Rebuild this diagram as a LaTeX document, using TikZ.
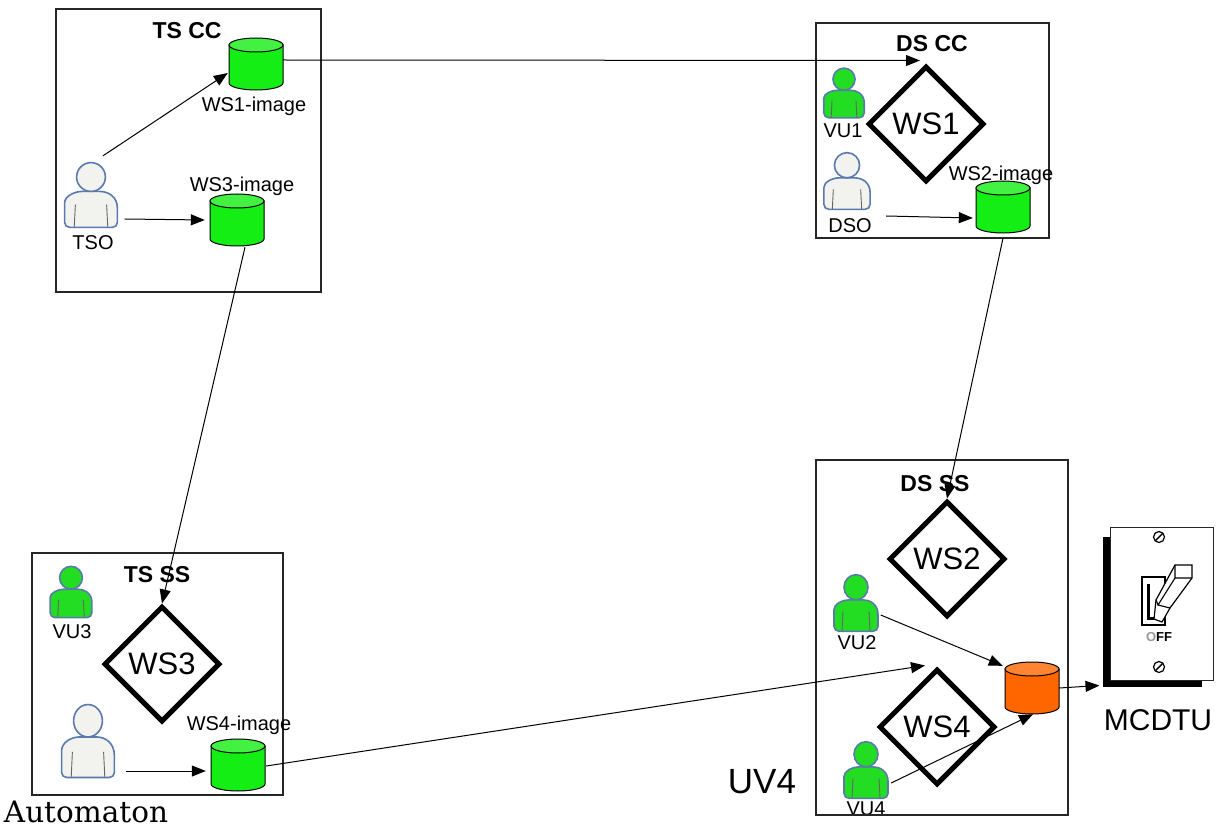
\documentclass[tikz,border=0pt]{standalone}
\usepackage{fontspec}
\setsansfont{Liberation Sans}
\newfontfamily\captionserif{DejaVu Serif}
\usetikzlibrary{shapes.geometric,arrows.meta,calc}

\definecolor{dbgreen}{HTML}{14EE14}
\definecolor{usergreen}{HTML}{22DD22}
\definecolor{userwhite}{HTML}{F2F2EE}
\definecolor{iconedge}{HTML}{5A7AAE}
\definecolor{dborange}{HTML}{FF6600}

\tikzset{
  zone/.style={draw=black!85, line width=1.2pt},
  zonetitle/.style={font=\sffamily\bfseries\fontsize{23}{26}\selectfont},
  lbl/.style={font=\sffamily\fontsize{20}{22}\selectfont, inner sep=0pt},
  biglbl/.style={font=\sffamily\fontsize{#1}{#1}\selectfont, inner sep=0pt},
  arr/.style={-{Triangle[length=14pt,width=11pt]}, line width=1pt},
  dbspot/.style={inner sep=0pt, minimum width=54pt, minimum height=52pt},
  ws/.style={diamond, draw=black, line width=5pt, minimum width=116pt,
    minimum height=116pt, inner sep=0pt, font=\sffamily\fontsize{31}{31}\selectfont},
  spot/.style={inner sep=0pt, minimum width=#1},
  % storage drum: body, front rim of the base, lighter top face
  drum/.pic={
    \filldraw[fill=#1, draw=black, line width=1pt]
      (-27,-19) -- (-27,19)
      arc[start angle=180, end angle=0, x radius=27, y radius=7]
      -- (27,-19) -- cycle;
    \filldraw[fill=#1!80!white, draw=black, line width=1pt]
      (0,-19) ellipse[x radius=27, y radius=7];
  },
  % user silhouette: shoulders, arm creases, head
  person/.pic={
    \path[fill=#1] (-22,27) [rounded corners=5pt] -- (-22,11)
      [rounded corners=0pt] .. controls (-22,1) and (-14,-3) .. (-7,-3)
      -- (7,-3) .. controls (14,-3) and (22,1) .. (22,11)
      [rounded corners=5pt] -- (22,27) -- cycle;
    \draw[iconedge, line width=1.6pt] (-22,27) [rounded corners=5pt] -- (-22,11)
      [rounded corners=0pt] .. controls (-22,1) and (-14,-3) .. (-7,-3)
      -- (7,-3) .. controls (14,-3) and (22,1) .. (22,11)
      [rounded corners=5pt] -- (22,27) -- cycle;
    \draw[black!60, line width=0.9pt] (-13,8) -- (-14,27) (13,8) -- (14,27);
    \filldraw[fill=#1, draw=iconedge, line width=1.6pt] (0,-15) circle (12);
  }
}

\begin{document}
\begin{tikzpicture}[x=1pt, y=-1pt]
\useasboundingbox[fill=white] (0,0) rectangle (1224,829);

% ---------- zones ----------
\draw[zone] (56,9) rectangle (321,292);
\draw[zone] (816,23) rectangle (1049,238);
\draw[zone] (32,553) rectangle (283,795);

\node[zonetitle] (tscc) at (187,31) {TS CC};
\node[zonetitle] (dscc) at (932,44) {DS CC};
\node[zonetitle] (tsss) at (157,575) {TS SS};
\node[zonetitle] (dsss) at (935,484) {DS SS};

% ---------- users ----------
\node[spot=55pt, minimum height=70pt] (tso) at (91,195) {};
\pic[scale=1.2] at (tso) {person=userwhite};
\node[lbl] (tsol) at (93,243) {TSO};

\node[spot=42pt, minimum height=50pt] (vu1) at (844,93) {};
\pic[scale=0.92] at (vu1) {person=usergreen};
\node[lbl] (vu1l) at (843,131) {VU1};

\node[spot=50pt, minimum height=60pt] (dso) at (847,181) {};
\pic[scale=1.05] at (dso) {person=userwhite};
\node[lbl] (dsol) at (850,226) {DSO};

\node[spot=46pt, minimum height=50pt] (vu3) at (71,592) {};
\pic[scale=0.95] at (vu3) {person=usergreen};
\node[lbl] (vu3l) at (72,632) {VU3};

\node[spot=55pt, minimum height=80pt] (auto) at (88,741) {};
\pic[xscale=1.2, yscale=1.35] at (auto) {person=userwhite};

\node[spot=47pt, minimum height=58pt] (vu2) at (856,603) {};
\pic[xscale=1.0, yscale=1.05] at (vu2) {person=usergreen};
\node[lbl] (vu2l) at (857,643) {VU2};

\node[spot=48pt, minimum height=58pt] (vu4) at (866,770) {};
\pic[xscale=1.0, yscale=1.05] at (vu4) {person=usergreen};
\node[lbl] (vu4l) at (866,809) {VU4};

% ---------- images ----------
\node[dbspot] (ws1img) at (256,64) {};
\pic at (ws1img) {drum=dbgreen};
\node[lbl] (ws1imgl) at (254,106) {WS1-image};
\node[dbspot] (ws3img) at (237,220) {};
\pic at (ws3img) {drum=dbgreen};
\node[lbl] (ws3imgl) at (242,186) {WS3-image};
\node[dbspot] (ws2img) at (1003,207) {};
\pic at (ws2img) {drum=dbgreen};
\node[lbl] (ws2imgl) at (1001,175) {WS2-image};
\node[dbspot] (ws4img) at (238,765) {};
\pic at (ws4img) {drum=dbgreen};
\node[lbl] (ws4imgl) at (239,725) {WS4-image};
\node[dbspot] (store) at (1032,688) {};
\pic at (store) {drum=dborange};

% ---------- workstations ----------
\node[ws] (ws1) at (926,124) {WS1};
\node[ws] (ws2) at (947,559) {WS2};
\node[ws] (ws3) at (162,664) {WS3};
\node[ws] (ws4) at (937,727) {WS4};

% DS SS zone frame
\draw[zone] (816,460) rectangle (1068,815);

% ---------- wall switch ----------
\fill[black] (1103,537) rectangle (1110,687);
\fill[black] (1103,680) rectangle (1202,687);
\node[draw=black!85, fill=white, line width=1pt, minimum width=103pt,
  minimum height=153pt, inner sep=0pt] (switch) at (1161.5,603.5) {};
\foreach \sy in {537,667}{
  \draw[line width=1.2pt] (1159,\sy) circle (5.5);
  \draw[line width=1.4pt] (1155.5,\sy+3.5) -- (1162.5,\sy-3.5);
}
\draw[line width=1.3pt] (1142,577) rectangle (1165,625);
\draw[line width=3pt] (1148,584) -- (1148,618) -- (1158,618);
\filldraw[fill=white, line width=1.2pt]
  (1175,565) -- (1192,565) -- (1192,578) -- (1170,608) -- (1162,622)
  -- (1154,619) -- (1156,600) -- cycle;
\draw[line width=1.1pt] (1175,565) -- (1175,578) -- (1192,578)
  (1175,578) -- (1158,605) -- (1156,600)
  (1158,605) -- (1170,608);
\node[font=\sffamily\bfseries\fontsize{13}{13}\selectfont, inner sep=0pt] (offl)
  at (1159,637) {\textcolor{black!40}{O}FF};
\node[biglbl=30] (mcdtu) at (1158,720) {MCDTU};

\node[biglbl=35] (uv4) at (762,782) {UV4};
\node[font=\captionserif\fontsize{29.5}{30}\selectfont, inner sep=0pt] (autol)
  at (86,812) {Automaton};

% ---------- connectors ----------
\draw[arr] ($(tso.north)+(12,-4)$) -- ($(ws1img.west)+(-1,9)$);
\draw[arr] ($(tso.east)+(6,24)$) -- ($(ws3img.west)+(-5,0)$);
\draw[arr] ($(ws1img.east)+(0,-4)$) -- ($(ws1.north)+(-6,-3)$);
\draw[arr] ($(dso.east)+(14,35)$) -- ($(ws2img.west)+(-3,11)$);
\draw[arr] ($(ws2img.south)+(0,5)$) -- (ws2.north);
\draw[arr] ($(ws3img.south)+(8,1)$) -- (ws3.north);
\draw[arr] ($(auto.east)+(10,30)$) -- ($(ws4img.west)+(-5,6)$);
\draw[arr] ($(ws4img.east)+(1,1)$) -- ($(ws4.north)+(-12,-1)$);
\draw[arr] ($(vu2.east)+(1,12)$) -- ($(store.north west)+(-2,4)$);
\draw[arr] ($(vu4.east)+(1,13)$) -- ($(store.south)+(1,0)$);
\draw[arr] (store.east) -- ($(switch.west)+(-10,82)$);
\end{tikzpicture}
\end{document}
